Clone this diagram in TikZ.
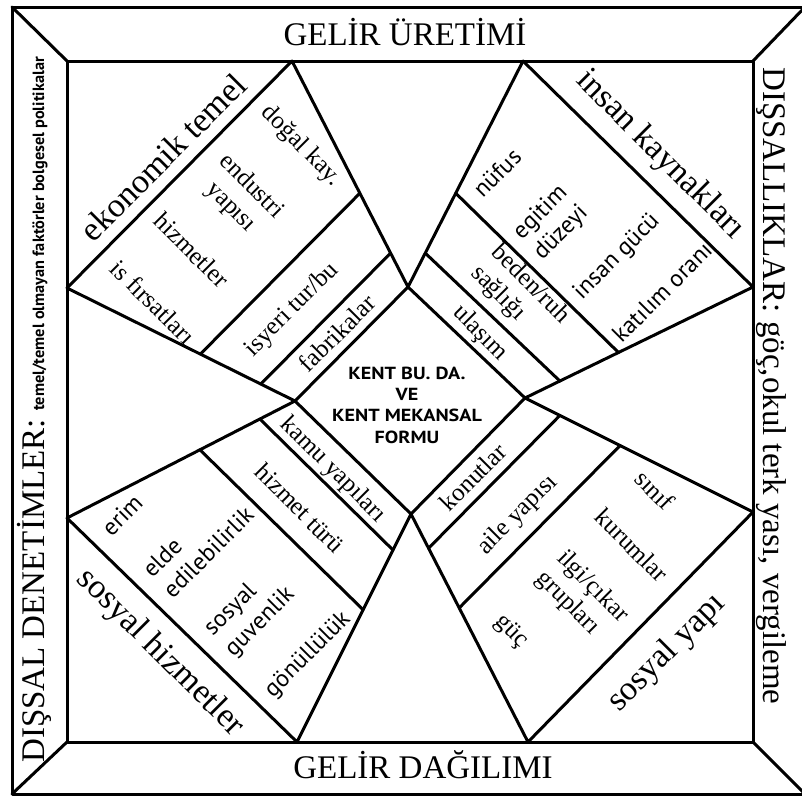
\documentclass[tikz,border=0pt]{standalone}
\usepackage{fontspec}
\usetikzlibrary{calc}
\setmainfont{Liberation Serif}
\newfontfamily\cfont{PT Sans}
\newfontfamily\cfontw[FakeStretch=1.15]{PT Sans}
\begin{document}
\begin{tikzpicture}[x=1pt,y=-1pt,
  ln/.style={line width=3pt, line cap=round, line join=round},
  lab/.style={font=\fontsize{25}{29}\selectfont, inner sep=0pt, align=center},
  labl/.style={font=\fontsize{25}{29}\selectfont, inner sep=0pt, align=left},
  slab/.style={font=\cfont\fontsize{24}{29}\selectfont, inner sep=0pt, align=center},
  slabl/.style={font=\cfont\fontsize{24}{29}\selectfont, inner sep=0pt, align=left},
  big/.style={font=\fontsize{34}{36}\selectfont, inner sep=0pt},
  title/.style={font=\fontsize{33}{36}\selectfont, inner sep=0pt, anchor=base},
  ctr/.style={font=\cfontw\bfseries\fontsize{17.5}{21.3}\selectfont, align=center, inner sep=0pt}]
\useasboundingbox (0,0) rectangle (802,803);
\fill[white] (0,0) rectangle (802,803);
% frame corners
\coordinate (OTL) at (12,7);
\coordinate (OTR) at (805,7);
\coordinate (OBR) at (805,794);
\coordinate (OBL) at (12,794);
\coordinate (ITL) at (67,61);
\coordinate (ITR) at (753,61);
\coordinate (IBR) at (753,742);
\coordinate (IBL) at (67,742);
% points on inner frame
\coordinate (P1) at (292,61);
\coordinate (P2) at (523,61);
\coordinate (P3) at (67,288);
\coordinate (P4) at (67,518);
\coordinate (P5) at (297,742);
\coordinate (P6) at (528,742);
\coordinate (P7) at (753,287);
\coordinate (P8) at (753,512);
% diamond
\coordinate (L) at (295,401);
\coordinate (T) at (408,287);
\coordinate (R) at (525,398);
\coordinate (B) at (411,514);
% frame
\draw[ln] (OTL) -- (OTR) -- (OBR) -- (OBL) -- cycle;
\draw[ln] (ITL) -- (ITR) -- (IBR) -- (IBL) -- cycle;
\draw[ln] (OTL) -- (ITL);
\draw[ln] (OTR) -- (ITR);
\draw[ln] (OBR) -- (IBR);
\draw[ln] (OBL) -- (IBL);
% quadrilaterals
\draw[ln] (P3) -- (P1) -- (T);
\draw[ln] (P3) -- (L);
\draw[ln] (P2) -- (P7) -- (R);
\draw[ln] (P2) -- (T);
\draw[ln] (P4) -- (P5) -- (B);
\draw[ln] (P4) -- (L);
\draw[ln] (P8) -- (P6) -- (B);
\draw[ln] (P8) -- (R);
\draw[ln] (L) -- (T) -- (R) -- (B) -- cycle;
% dividers
\draw[ln] ($(P3)!0.585!(L)$) -- ($(P1)!0.585!(T)$);
\draw[ln] ($(P3)!0.85!(L)$) -- ($(P1)!0.85!(T)$);
\draw[ln] ($(P2)!0.585!(T)$) -- ($(P7)!0.59!(R)$);
\draw[ln] ($(P2)!0.85!(T)$) -- ($(P7)!0.847!(R)$);
\draw[ln] ($(P4)!0.583!(L)$) -- ($(P5)!0.58!(B)$);
\draw[ln] ($(P4)!0.846!(L)$) -- ($(P5)!0.842!(B)$);
\draw[ln] ($(P8)!0.583!(R)$) -- ($(P6)!0.588!(B)$);
\draw[ln] ($(P8)!0.847!(R)$) -- ($(P6)!0.85!(B)$);
% titles
\node[title] (gu) at (405,45) {GELİR ÜRETİMİ};
\node[title] (gd) at (423,778) {GELİR DAĞILIMI};
\node[rotate=90, anchor=base west, inner sep=0pt] (ldenet) at (44,763)
  {\fontsize{33}{36}\selectfont DIŞSAL DENETİMLER: {\cfont\bfseries\fontsize{16.3}{19}\selectfont temel/temel olmayan faktörler bolgesel politikalar}};
\node[title, rotate=-90, anchor=base west] (rdis) at (763,67) {DIŞSALLIKLAR: göç,okul terk yası, vergileme};
% centre
\node[ctr] (kent) at (407,405) {KENT BU. DA.\\VE\\KENT MEKANSAL\\FORMU};
% top-left
\node[big, rotate=45] (ekon) at (163,157) {ekonomik temel};
\node[lab, rotate=-45] (dogal) at (301,146) {doğal kay.};
\node[lab, rotate=-45] (endus) at (241,197) {endustri\\yapısı};
\node[lab, rotate=-45] (hizm) at (192,250) {hizmetler};
\node[lab, rotate=-45] (isfir) at (153,302) {is fırsatları};
\node[lab, rotate=45] (isyeri) at (292,310) {isyeri tur/bu};
\node[lab, rotate=45] (fabr) at (337,333) {fabrikalar};
% top-right
\node[big, rotate=-45] (insan) at (660,155) {insan kaynakları};
\node[slab, rotate=45] (nufus) at (497,173) {nüfus};
\node[slab, rotate=45] (egit) at (551,223) {egitim\\düzeyi};
\node[slab, rotate=45] (gucu) at (617,257) {insan gücü};
\node[slab, rotate=45] (katil) at (662,292) {katılım oranı};
\node[labl, rotate=-45] (beden) at (520,295) {beden/ruh\\sağlığı};
\node[lab, rotate=-45] (ulas) at (480,333) {ulaşım};
% bottom-left
\node[big, rotate=-45] (sosh) at (160,653) {sosyal hizmetler};
\node[lab, rotate=-45] (kamu) at (333,470) {kamu yapıları};
\node[lab, rotate=-45] (hturu) at (300,508) {hizmet türü};
\node[slab, rotate=45] (erim) at (122,515) {erim};
\node[slabl, rotate=45] (elde) at (198,542) {elde\\edilebilirlik};
\node[slabl, rotate=45] (guv) at (250,612) {sosyal\\guvenlik};
\node[slab, rotate=45] (gon) at (308,655) {gönüllülük};
% bottom-right
\node[big, rotate=45] (sosy) at (667,653) {sosyal yapı};
\node[lab, rotate=45] (konut) at (473,477) {konutlar};
\node[lab, rotate=45] (aile) at (518,515) {aile yapısı};
\node[lab, rotate=-45] (sinif) at (655,490) {sınıf};
\node[lab, rotate=-45] (kurum) at (632,545) {kurumlar};
\node[labl, rotate=-45] (ilgi) at (582,597) {ilgi/çıkar\\grupları};
\node[lab, rotate=-45] (guc) at (511,632) {güç};
\end{tikzpicture}
\end{document}
